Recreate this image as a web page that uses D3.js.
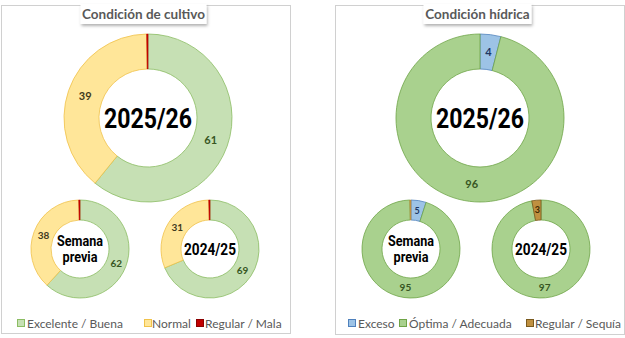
<!DOCTYPE html>
<html>
<head>
<meta charset="utf-8">
<script src="https://cdn.jsdelivr.net/npm/d3@7"></script>
<style>
  body { margin: 0; background: #fff; }
  svg { display: block; }
</style>
</head>
<body>
<svg id="chart" width="625" height="338"></svg>
<script>
// datos
var cultivoCats = ['Excelente / Buena', 'Normal', 'Regular / Mala'];
var cultivoActual = [61, 39, 0.25];
var cultivoPrevia = [62, 38, 0.4];
var cultivoAnterior = [69, 31, 0.4];

var hidricaCats = ['Exceso', 'Óptima / Adecuada', 'Regular / Sequía'];
var hidricaActual = [4, 96, 0];
var hidricaPrevia = [5, 95, 0.4];
var hidricaAnterior = [0, 97, 3];

var campanias = ['2025/26', 'Semana previa', '2024/25'];
var titulos = ['Condición de cultivo', 'Condición hídrica'];

var svg = d3.select('#chart');
var font = "Lato, 'Open Sans', sans-serif";
var fontBig = "Roboto, 'DejaVu Sans', sans-serif";

var defs = svg.append('defs');
var f = defs.append('filter').attr('id', 'sh').attr('x', '-10%').attr('y', '-30%').attr('width', '130%').attr('height', '180%');
f.append('feDropShadow').attr('dx', 1).attr('dy', 2).attr('stdDeviation', 1.5).attr('flood-color', '#000').attr('flood-opacity', 0.3);

var panels = [
  { x: 1, y: 5, w: 289, h: 328, title: titulos[0], tw: 126, cats: cultivoCats,
    data: [cultivoActual, cultivoPrevia, cultivoAnterior],
    fill: ['#c6e0b4', '#ffe699', '#c00000'],
    stroke: ['#8cbd63', '#f0c24a', '#8b0000'],
    txt: ['#375623', '#3f3a20', '#600000'],
    centers: [[148, 118], [80, 249], [210, 249]],
    legend: [[17, 27], [144, 152], [196, 205]] },
  { x: 335, y: 5, w: 289, h: 329, title: titulos[1], tw: 108, cats: hidricaCats,
    data: [hidricaActual, hidricaPrevia, hidricaAnterior],
    fill: ['#9dc3e6', '#a9d18e', '#bf9040'],
    stroke: ['#4f81bd', '#6fa447', '#7a5a1e'],
    txt: ['#1f3864', '#375623', '#3f2a00'],
    centers: [[480, 118], [411, 249], [541, 249]],
    legend: [[348, 358], [399, 409], [526, 535]] }
];

var radii = [[84, 49], [49, 29], [49, 29]];

// estrecha un texto hasta el ancho buscado
function squeeze(sel, w) {
  var len = sel.node().getComputedTextLength();
  var s = Math.min(1, w / len);
  sel.attr('transform', 'scale(' + s + ',1)');
}

panels.forEach(function(p) {
  var g = svg.append('g');
  g.append('rect').attr('x', p.x + 0.5).attr('y', p.y + 0.5).attr('width', p.w).attr('height', p.h)
    .style('fill', '#fff').style('stroke', '#d0d0d0');

  var cx = p.x + p.w / 2;
  // titulo
  g.append('rect').attr('x', cx - p.tw / 2 - 2).attr('y', p.y - 1).attr('width', p.tw).attr('height', 20)
    .style('fill', '#fff').attr('filter', 'url(#sh)');
  g.append('text').attr('x', cx - 2).attr('y', p.y + 14).attr('text-anchor', 'middle')
    .style('font-family', font).style('font-weight', 'bold').style('font-size', '13.5px')
    .style('fill', '#595959').text(p.title);

  var color = d3.scaleOrdinal().domain(p.cats).range(p.fill);
  var stroke = d3.scaleOrdinal().domain(p.cats).range(p.stroke);
  var tcol = d3.scaleOrdinal().domain(p.cats).range(p.txt);
  var pie = d3.pie().sort(null).value(function(d) { return d.v; });

  p.data.forEach(function(vals, k) {
    var rows = p.cats.map(function(c, i) { return { c: c, v: vals[i] }; });
    var arc = d3.arc().innerRadius(radii[k][1]).outerRadius(radii[k][0]);
    var mid = (radii[k][0] + radii[k][1]) / 2;
    var lab = d3.arc().innerRadius(mid).outerRadius(mid);
    var dg = g.append('g').attr('transform', 'translate(' + p.centers[k][0] + ',' + p.centers[k][1] + ')');
    var arcs = pie(rows);
    dg.selectAll('path').data(arcs.filter(function(d) { return d.data.v > 0; }))
      .enter().append('path')
        .attr('d', arc)
        .style('fill', function(d) { return color(d.data.c); })
        .style('stroke', function(d) { return d.data.v < 1 ? color(d.data.c) : stroke(d.data.c); })
        .style('stroke-width', function(d) { return d.data.v < 1 ? 0.6 : 0.8; });
    dg.selectAll('text.val').data(arcs.filter(function(d) { return d.data.v >= 1; }))
      .enter().append('text').attr('class', 'val')
        .attr('transform', function(d) { return 'translate(' + lab.centroid(d) + ')'; })
        .attr('text-anchor', 'middle').attr('dy', '0.35em')
        .style('font-family', font).style('font-weight', 'bold')
        .style('font-size', function(d) { return (k == 0 ? 11 : (d.data.v < 10 ? 9 : 10)) + 'px'; })
        .style('fill', function(d) { return tcol(d.data.c); })
        .text(function(d) { return Math.round(d.data.v); });

    // etiqueta central
    var cg = dg.append('g').style('font-family', fontBig).style('font-weight', 'bold').style('fill', '#000');
    if (campanias[k] == 'Semana previa') {
      cg.style('font-size', '14.5px');
      squeeze(cg.append('text').attr('text-anchor', 'middle').attr('y', -3).text('Semana'), 46);
      squeeze(cg.append('text').attr('text-anchor', 'middle').attr('y', 13).text('previa'), 35);
    } else {
      cg.style('font-size', k == 0 ? '27px' : '16.5px');
      squeeze(cg.append('text').attr('text-anchor', 'middle').attr('dy', '0.36em').text(campanias[k]), k == 0 ? 88 : 52);
    }
  });

  // leyenda
  p.cats.forEach(function(c, i) {
    var lx = p.legend[i];
    g.append('rect').attr('x', lx[0] + 0.5).attr('y', 319.5).attr('width', 7).attr('height', 7)
      .style('fill', color(c)).style('stroke', stroke(c)).style('stroke-width', 1);
    g.append('text').attr('x', lx[1]).attr('y', 327.5)
      .style('font-family', font).style('font-size', '12px').style('fill', '#595959').text(c);
  });
});
</script>
</body>
</html>
